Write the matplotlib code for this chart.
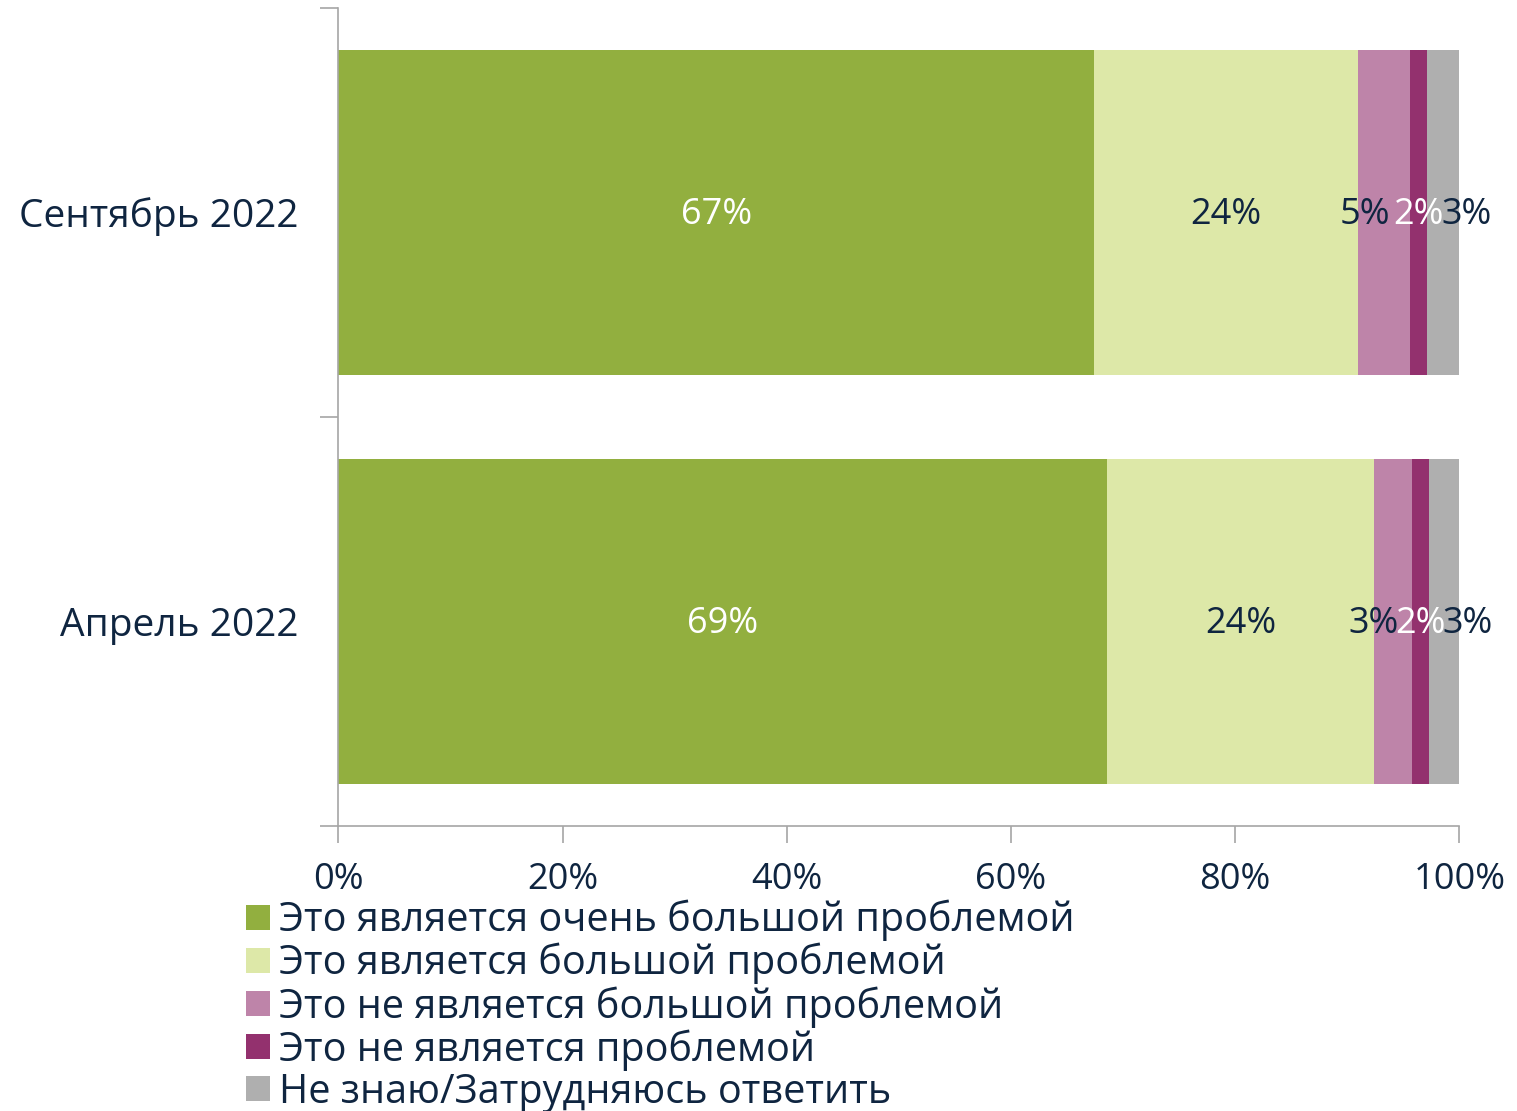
import numpy as np
import matplotlib.pyplot as plt

# survey data (percent)
periods = ['Сентябрь 2022', 'Апрель 2022']
answers = ['Это является очень большой проблемой',
           'Это является большой проблемой',
           'Это не является большой проблемой',
           'Это не является проблемой',
           'Не знаю/Затрудняюсь ответить']
sep_2022 = [67.4, 23.6, 4.6, 1.5, 2.9]
apr_2022 = [68.6, 23.8, 3.4, 1.5, 2.7]

colors = ['#92AF3F', '#DDE8A8', '#BE84A9', '#93316E', '#AFAFAF']
label_colors = ['white', '#0F2540', '#0F2540', 'white', '#0F2540']
# small segments: labels nudged sideways (points) so they sit next to each other
label_nudge = [0, 0, -14, 0, 17]
text_col = '#0F2540'

plt.rcParams['font.family'] = ['Open Sans', 'DejaVu Sans']

data = np.array([sep_2022, apr_2022])
ypos = np.arange(len(periods))

fig = plt.figure(figsize=(15.17, 11.11), dpi=100)
ax = fig.add_axes([0.223, 0.2565, 0.739, 0.7365])

left = np.zeros(len(periods))
for i, ans in enumerate(answers):
    bars = ax.barh(ypos, data[:, i], left=left, height=0.795, color=colors[i], label=ans)
    for j, b in enumerate(bars):
        ax.annotate('%d%%' % round(data[j, i]), (left[j] + data[j, i] / 2, ypos[j]),
                    xytext=(label_nudge[i], -2), textcoords='offset points',
                    ha='center', va='center', fontsize=26, color=label_colors[i])
    left += data[:, i]

ax.set_xlim(0, 100)
ax.set_ylim(1.5, -0.5)
ax.set_xticks(np.arange(0, 101, 20))
ax.set_xticklabels(['%d%%' % v for v in range(0, 101, 20)])
ax.set_yticks(ypos)
ax.set_yticklabels(periods)
ax.set_yticks([-0.5, 0.5, 1.5], minor=True)
ax.tick_params(axis='y', which='major', length=0, pad=29, labelsize=28, labelcolor=text_col)
ax.tick_params(axis='y', which='minor', length=13, color='#A6A6A6', width=1.2)
ax.tick_params(axis='x', length=12, color='#A6A6A6', width=1.2, pad=14, labelsize=26, labelcolor=text_col)
for s in ['top', 'right']:
    ax.spines[s].set_visible(False)
for s in ['left', 'bottom']:
    ax.spines[s].set_color('#A6A6A6')
    ax.spines[s].set_linewidth(1.2)

ax.legend(loc='upper left', bbox_to_anchor=(0.162, 0.19), bbox_transform=fig.transFigure,
          frameon=False, fontsize=28.5, labelcolor=text_col, handlelength=0.6, handleheight=0.6,
          handletextpad=0.25, labelspacing=0.04, borderpad=0, borderaxespad=0)

fig.savefig('out.png', dpi=100)
